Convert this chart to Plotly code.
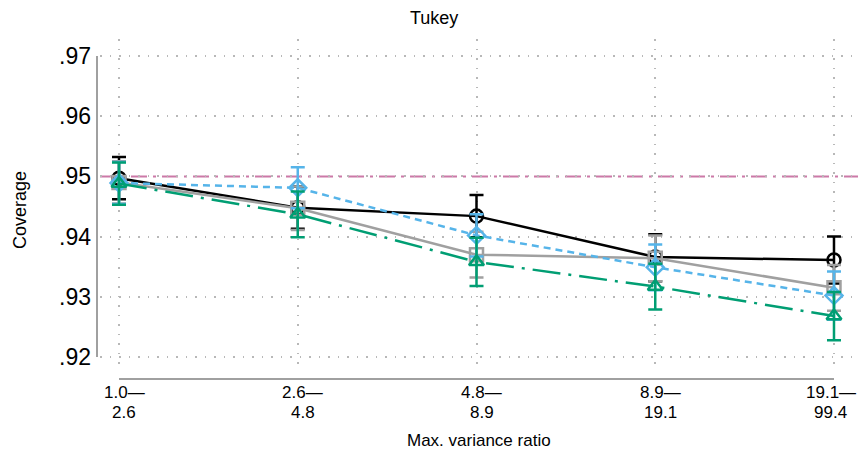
import plotly.graph_objects as go

# Groups of maximum variance ratio (lower and upper bound of each group)
group_lo = ["1.0", "2.6", "4.8", "8.9", "19.1"]
group_hi = ["2.6", "4.8", "8.9", "19.1", "99.4"]
x_pos = [0, 1, 2, 3, 4]

# Coverage estimates with lower / upper interval bounds
black_est = [0.9497, 0.9448, 0.9434, 0.9366, 0.9361]
black_lo = [0.9462, 0.9413, 0.9399, 0.9326, 0.9322]
black_hi = [0.9532, 0.9483, 0.9469, 0.9404, 0.9400]

gray_est = [0.9490, 0.9447, 0.9370, 0.9364, 0.9315]
gray_lo = [0.9455, 0.9411, 0.9332, 0.9326, 0.9277]
gray_hi = [0.9525, 0.9483, 0.9408, 0.9402, 0.9353]

blue_est = [0.9489, 0.9481, 0.9402, 0.9349, 0.9302]
blue_lo = [0.9454, 0.9447, 0.9367, 0.9311, 0.9262]
blue_hi = [0.9524, 0.9515, 0.9437, 0.9387, 0.9342]

green_est = [0.9488, 0.9437, 0.9358, 0.9317, 0.9268]
green_lo = [0.9453, 0.9399, 0.9318, 0.9279, 0.9228]
green_hi = [0.9523, 0.9475, 0.9398, 0.9355, 0.9308]

nominal = 0.95
y_ticks = [0.92, 0.93, 0.94, 0.95, 0.96, 0.97]
y_ticktext = [".92", ".93", ".94", ".95", ".96", ".97"]

x_range = [-0.1063, 4.1343]
y_range = [0.91784, 0.97282]

series = [
    (black_est, black_lo, black_hi, "#000000", "solid", "circle-open"),
    (gray_est, gray_lo, gray_hi, "#A0A0A0", "solid", "square-open"),
    (blue_est, blue_lo, blue_hi, "#56B4E9", "7px,5px", "diamond-open"),
    (green_est, green_lo, green_hi, "#009E73", "28px,8px,3px,8px", "triangle-up-open"),
]

fig = go.Figure()

# Nominal coverage reference line
fig.add_shape(type="line", xref="paper", yref="y", x0=0, x1=1, y0=nominal, y1=nominal,
              line=dict(color="#CC79A7", width=2, dash="16px,6px,3px,6px"), layer="below")

for est, lo, hi, color, dash, symbol in series:
    fig.add_trace(go.Scatter(
        x=x_pos, y=est, mode="lines+markers",
        line=dict(color=color, width=2.5, dash=dash),
        marker=dict(symbol=symbol, size=13, color=color, line=dict(color=color, width=2.5)),
        error_y=dict(type="data", symmetric=False,
                     array=[h - e for h, e in zip(hi, est)],
                     arrayminus=[e - l for e, l in zip(est, lo)],
                     color=color, thickness=2.5, width=7),
        showlegend=False,
    ))

# Detached axis lines
y_axis_x = -3 / 758
fig.add_shape(type="line", xref="paper", yref="y", x0=y_axis_x, x1=y_axis_x,
              y0=y_ticks[0], y1=y_ticks[-1], line=dict(color="#A0A0A0", width=2))
x_axis_y = -9 / 331
span = x_range[1] - x_range[0]
fig.add_shape(type="line", xref="paper", yref="paper",
              x0=(x_pos[0] - x_range[0]) / span, x1=(x_pos[-1] - x_range[0]) / span,
              y0=x_axis_y, y1=x_axis_y, line=dict(color="#A0A0A0", width=2))

# Two-line category labels with tight line spacing
tick_font = dict(size=17, family="Liberation Sans, Arial, sans-serif", color="#000000")
label_notes = []
for i, (xp, lo_txt, hi_txt) in enumerate(zip(x_pos, group_lo, group_hi)):
    last = i == len(x_pos) - 1
    anchor = "right" if last else "center"
    shift = 23 if last else 5
    label_notes.append(dict(text=lo_txt + "—", xref="x", yref="paper", x=xp, y=0,
                            xanchor=anchor, yanchor="middle", xshift=shift, yshift=-22,
                            showarrow=False, font=tick_font, borderpad=0))
    label_notes.append(dict(text=hi_txt, xref="x", yref="paper", x=xp, y=0,
                            xanchor="center", yanchor="middle",
                            xshift=-3 if last else shift, yshift=-42,
                            showarrow=False, font=tick_font, borderpad=0))

fig.update_layout(
    width=867, height=461,
    margin=dict(l=100, r=9, t=39, b=91),
    paper_bgcolor="white", plot_bgcolor="white",
    font=dict(family="Liberation Sans, Arial, sans-serif", color="#000000"),
    annotations=[
        dict(text="Tukey", xref="paper", yref="paper", x=(433.5 - 100) / 758, y=1 + 21 / 331,
             xanchor="center", yanchor="middle", showarrow=False, font=dict(size=18)),
        dict(text="Coverage", xref="paper", yref="paper", x=-80 / 758, y=(370 - 210) / 331,
             xanchor="center", yanchor="middle", textangle=-90, showarrow=False, font=dict(size=18)),
        dict(text="Max. variance ratio", xref="paper", yref="paper", x=(479 - 100) / 758,
             y=-(441 - 370) / 331, xanchor="center", yanchor="middle", showarrow=False,
             font=dict(size=17)),
    ] + label_notes,
)

fig.update_xaxes(
    range=x_range, tickvals=x_pos, showticklabels=False,
    showgrid=True, gridcolor="#B8B8B8", gridwidth=1.5, griddash="1.5px,8px",
    zeroline=False, showline=False, ticks="",
)
fig.update_yaxes(
    range=y_range, tickvals=y_ticks, ticktext=y_ticktext, tickfont=dict(size=23),
    showgrid=True, gridcolor="#B8B8B8", gridwidth=1.5, griddash="1.5px,8px",
    zeroline=False, showline=False, ticks="", ticklabelstandoff=8,
)

fig.write_html("out.html")
